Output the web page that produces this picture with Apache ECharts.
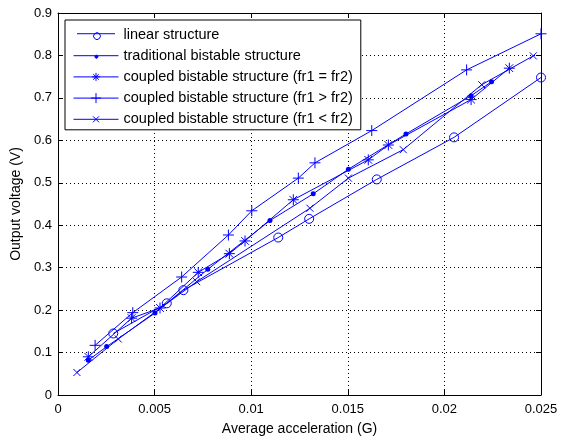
<!DOCTYPE html>
<html><head><meta charset="utf-8">
<script src="https://cdn.jsdelivr.net/npm/echarts@6/dist/echarts.min.js"></script>
<style>html,body{margin:0;padding:0;background:#fff}#c{width:561px;height:441px}</style>
</head><body><div id="c"></div>
<script>
// ---- data ----
const seriesNames = ['linear structure','traditional bistable structure','coupled bistable structure (fr1 = fr2)','coupled bistable structure (fr1 > fr2)','coupled bistable structure (fr1 < fr2)'];
const linearX = [0.00286,0.00563,0.00649,0.0114,0.0130,0.0165,0.0205,0.0250];
const linearY = [0.145,0.216,0.247,0.371,0.415,0.508,0.607,0.748];
const tradX = [0.00157,0.00252,0.00502,0.00775,0.01097,0.01321,0.01503,0.01801,0.02138,0.02244];
const tradY = [0.082,0.114,0.193,0.296,0.411,0.474,0.532,0.615,0.705,0.738];
const eqX = [0.00157,0.00381,0.00528,0.00726,0.00887,0.00968,0.01218,0.01606,0.01710,0.02138,0.02336];
const eqY = [0.090,0.181,0.205,0.289,0.333,0.363,0.460,0.554,0.589,0.696,0.770];
const gtX = [0.00192,0.00387,0.00640,0.00882,0.01003,0.01244,0.01330,0.01624,0.02115,0.02500];
const gtY = [0.117,0.194,0.278,0.377,0.434,0.511,0.547,0.623,0.766,0.851];
const ltX = [0.00098,0.00312,0.00718,0.01304,0.01503,0.01787,0.02193,0.02460];
const ltY = [0.053,0.132,0.267,0.440,0.511,0.578,0.731,0.799];
const xTicks = [0,0.005,0.01,0.015,0.02,0.025];
const yTicks = [0,0.1,0.2,0.3,0.4,0.5,0.6,0.7,0.8,0.9];

const zip = (a,b)=>a.map((v,i)=>[v,b[i]]);
const BLUE = '#0000ff';
const FONT = 'Liberation Sans';
const STAR = 'path://M0,-5L0,5M-5,0L5,0M-3.5,-3.5L3.5,3.5M-3.5,3.5L3.5,-3.5';
const PLUS = 'path://M0,-5L0,5M-5,0L5,0';
const CROSS = 'path://M-5,-5L5,5M-5,5L5,-5';
// legend icons: line + marker drawn in a 45x10 box
const LG = 'path://M0,0M45,10M0,5L45,5';
const legendIcons = [
  LG + 'M26.5,5A4,4 0 1 1 26.49,4.99',
  LG + 'M24,5A1.5,1.5 0 1 1 23.99,4.99Z',
  LG + 'M22.5,1L22.5,9M18.5,5L26.5,5M19.7,2.2L25.3,7.8M19.7,7.8L25.3,2.2',
  LG + 'M22.5,0L22.5,10M17.5,5L27.5,5',
  LG + 'M19.5,2L25.5,8M19.5,8L25.5,2'
];
const mk = (name, xs, ys, symbol, size, filled) => ({
  name, type:'line', data: zip(xs,ys), symbol, symbolSize: size, showSymbol:true,
  lineStyle:{color:BLUE,width:1}, color: BLUE,
  itemStyle: filled ? {color:BLUE, borderColor:BLUE, borderWidth:0} : {color:'rgba(0,0,0,0)', borderColor:BLUE, borderWidth:1},
  emphasis:{disabled:true}, animation:false, clip:false, z:3
});

const chart = echarts.init(document.getElementById('c'), null, {renderer:'canvas'});
const axisCommon = {
  axisLine:{show:true,onZero:false,lineStyle:{color:'#000',width:1}},
  axisTick:{show:true,inside:true,length:5,lineStyle:{color:'#000'}},
  axisLabel:{color:'#000',fontFamily:FONT,fontSize:13},
};
chart.setOption({
  animation:false,
  backgroundColor:'#fff',
  grid:{left:58,right:20,top:13,bottom:46,containLabel:false},
  xAxis:[
    Object.assign({type:'value',min:0,max:0.025,interval:0.005,position:'bottom',
      name:'Average acceleration (G)',nameLocation:'middle',nameGap:27,
      nameTextStyle:{color:'#000',fontFamily:FONT,fontSize:14},
      splitLine:{show:true,lineStyle:{color:'#000',type:[1,3],width:1}},
    }, axisCommon, {axisLabel:Object.assign({},axisCommon.axisLabel,{margin:8,formatter:v=>String(+v.toFixed(3))})}),
    Object.assign({type:'value',min:0,max:0.025,interval:0.005,position:'top',splitLine:{show:false}},axisCommon,{axisLabel:{show:false}})
  ],
  yAxis:[
    Object.assign({type:'value',min:0,max:0.9,interval:0.1,position:'left',
      name:'Output voltage (V)',nameLocation:'middle',nameGap:34,nameRotate:90,
      nameTextStyle:{color:'#000',fontFamily:FONT,fontSize:14},
      splitLine:{show:true,lineStyle:{color:'#000',type:[1,3],width:1}},
    }, axisCommon, {axisLabel:Object.assign({},axisCommon.axisLabel,{margin:6,formatter:v=>String(+v.toFixed(1))})}),
    Object.assign({type:'value',min:0,max:0.9,interval:0.1,position:'right',splitLine:{show:false}},axisCommon,{axisLabel:{show:false}})
  ],
  legend:{
    orient:'vertical', left:65, top:20,
    data: seriesNames.map((n,i)=>({name:n, icon:legendIcons[i],
      itemStyle:{color: i===1 ? BLUE : 'rgba(0,0,0,0)', borderColor:BLUE, borderWidth:1}})),
    backgroundColor:'#fff', borderColor:'#000', borderWidth:1, borderRadius:0,
    padding:[7,8,3,8], itemWidth:45, itemHeight:10, itemGap:6.2,
    textStyle:{color:'#000',fontFamily:FONT,fontSize:14.5,padding:[0,0,0,0]},
    selectedMode:false
  },
  series:[
    mk(seriesNames[0], linearX, linearY, 'circle', 9, false),
    mk(seriesNames[1], tradX, tradY, 'circle', 5, true),
    mk(seriesNames[2], eqX, eqY, STAR, 11, false),
    mk(seriesNames[3], gtX, gtY, PLUS, 11, false),
    mk(seriesNames[4], ltX, ltY, CROSS, 7, false),
  ]
});
</script></body></html>
